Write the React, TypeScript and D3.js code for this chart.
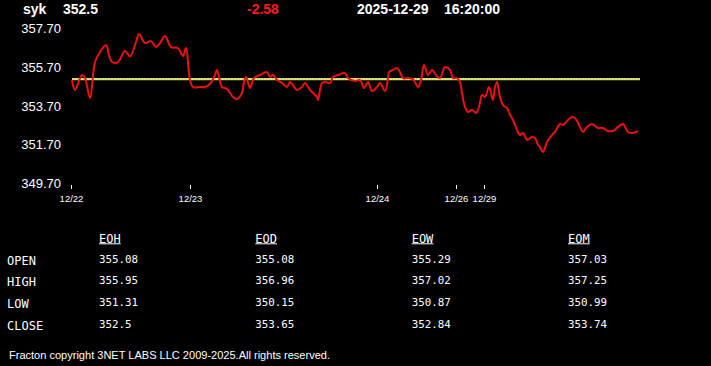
import React, { useEffect, useRef } from 'react';
import * as d3 from 'd3';

// header
const symbol = 'syk';
const lastPrice = '352.5';
const change = '-2.58';
const quoteDate = '2025-12-29';
const quoteTime = '16:20:00';

// price trace: [bar index, price]
const series: [number, number][] = [
  [0, 355.03], [3, 354.52], [10, 355.29], [13, 355.13], [18, 354.1], [23, 355.96],
  [28, 356.48], [34, 356.84], [37, 356.32], [40, 355.96], [46, 355.96], [53, 356.53],
  [58, 356.25], [64, 356.99], [67, 357.41], [73, 356.94], [79, 357.04], [84, 356.73],
  [88, 356.94], [93, 357.3], [99, 356.73], [106, 356.68], [111, 356.27], [114, 356.68],
  [118, 355.03], [121, 354.67], [128, 354.67], [133, 354.67], [138, 354.83], [143, 355.29],
  [145, 355.55], [150, 354.67], [153, 354.62], [156, 354.52], [161, 354.15], [165, 354.05],
  [170, 354.36], [172, 354.93], [174, 355.19], [178, 354.62], [182, 355.13], [188, 355.29],
  [195, 355.44], [198, 355.19], [201, 355.29], [205, 355.03], [210, 354.88], [215, 354.67],
  [218, 354.93], [225, 354.52], [230, 354.67], [233, 354.88], [238, 354.52], [245, 354.15],
  [246, 354.0], [250, 354.88], [253, 354.93], [258, 354.88], [261, 355.19], [266, 355.29],
  [273, 355.39], [276, 355.13], [283, 354.98], [288, 355.03], [292, 354.62], [296, 354.93],
  [300, 354.46], [305, 354.67], [308, 354.88], [313, 354.46], [316, 355.13], [317, 355.44],
  [321, 355.55], [325, 355.65], [328, 355.44], [331, 355.13], [336, 355.13], [341, 355.08],
  [346, 354.67], [349, 355.03], [352, 355.81], [356, 355.29], [360, 355.55], [364, 355.29],
  [368, 355.13], [373, 355.7], [378, 355.55], [381, 355.13], [385, 355.13], [388, 354.93],
  [390, 354.36], [393, 353.64], [396, 353.38], [400, 353.48], [404, 353.33], [407, 353.64],
  [410, 354.26], [413, 354.15], [415, 354.41], [417, 354.67], [420, 354.15], [421, 354.0],
  [423, 354.67], [425, 354.93], [428, 354.15], [431, 353.74], [435, 353.59], [438, 353.23],
  [441, 352.97], [445, 352.45], [448, 352.19], [451, 352.3], [455, 351.94], [460, 352.09],
  [463, 352.04], [466, 351.68], [468, 351.57], [471, 351.32], [475, 351.83], [480, 352.19],
  [483, 352.35], [488, 352.76], [491, 352.71], [496, 352.97], [500, 353.12], [503, 353.07],
  [508, 352.61], [511, 352.35], [515, 352.61], [520, 352.76], [526, 352.55], [531, 352.55],
  [536, 352.4], [541, 352.4], [546, 352.61], [551, 352.76], [556, 352.35], [561, 352.3],
  [566, 352.4],
];
const lastBar = 568;
const openLevel = 355.08;

const yTicks = [349.7, 351.7, 353.7, 355.7, 357.7];
const xTickLabels = ['12/22', '12/23', '12/24', '12/26', '12/29'];
const xTickBars = [-1, 118, 305, 384, 412];

// summary table
const columns = ['EOH', 'EOD', 'EOW', 'EOM'];
const rowLabels = ['OPEN', 'HIGH', 'LOW', 'CLOSE'];
const openRow = ['355.08', '355.08', '355.29', '357.03'];
const highRow = ['355.95', '356.96', '357.02', '357.25'];
const lowRow = ['351.31', '350.15', '350.87', '350.99'];
const closeRow = ['352.5', '353.65', '352.84', '353.74'];
const footer = 'Fracton copyright 3NET LABS LLC 2009-2025.All rights reserved.';

const W = 711;
const H = 366;

const App: React.FC = () => {
  const svgRef = useRef<SVGSVGElement>(null);

  useEffect(() => {
    if (!svgRef.current) return;
    const svg = d3.select(svgRef.current);
    svg.selectAll('*').remove();

    const sans = 'Arial, "Liberation Sans", sans-serif';
    const mono = '"DejaVu Sans Mono", "Liberation Mono", monospace';

    svg.append('rect').attr('width', W).attr('height', H).attr('fill', '#000');

    // header line
    const head = [
      { t: symbol, x: 23, c: '#fff' },
      { t: lastPrice, x: 63, c: '#fff' },
      { t: change, x: 247, c: '#ff1a1a' },
      { t: quoteDate, x: 357, c: '#fff' },
      { t: quoteTime, x: 444, c: '#fff' },
    ];
    svg.selectAll('text.head')
      .data(head)
      .enter()
      .append('text')
      .attr('x', (d) => d.x)
      .attr('y', 14)
      .attr('fill', (d) => d.c)
      .attr('font-family', sans)
      .attr('font-size', '14px')
      .attr('font-weight', 'bold')
      .text((d) => d.t);

    // scales
    const x = d3.scaleLinear().domain([0, lastBar]).range([72, 640]);
    const y = d3.scaleLinear().domain([349.7, 357.7]).range([183.3, 28.3]);

    // y labels
    svg.selectAll('text.ytick')
      .data(yTicks)
      .enter()
      .append('text')
      .attr('x', 61)
      .attr('y', (d) => y(d) + 4.7)
      .attr('text-anchor', 'end')
      .attr('fill', '#fff')
      .attr('font-family', sans)
      .attr('font-size', '13px')
      .text((d) => d.toFixed(2));

    // x ticks
    const xt = svg.selectAll('g.xtick')
      .data(xTickBars)
      .enter()
      .append('g')
      .attr('transform', (d) => `translate(${Math.round(x(d)) + 0.5},0)`);
    xt.append('line')
      .attr('y1', 185)
      .attr('y2', 189)
      .attr('stroke', '#fff')
      .attr('stroke-width', 1);
    xt.append('text')
      .attr('y', 202)
      .attr('text-anchor', 'middle')
      .attr('fill', '#fff')
      .attr('font-family', sans)
      .attr('font-size', '9.5px')
      .text((_, i) => xTickLabels[i]);

    // open reference line
    svg.append('line')
      .attr('x1', x(0))
      .attr('x2', x(lastBar))
      .attr('y1', y(openLevel))
      .attr('y2', y(openLevel))
      .attr('stroke', '#c8d060')
      .attr('stroke-width', 2.2);
    svg.append('line')
      .attr('x1', x(0))
      .attr('x2', x(lastBar))
      .attr('y1', y(openLevel))
      .attr('y2', y(openLevel))
      .attr('stroke', '#f2f0a0')
      .attr('stroke-width', 1)
      .attr('stroke-dasharray', '2,1');

    // price line
    const line = d3.line<[number, number]>()
      .x((d) => x(d[0]))
      .y((d) => y(d[1]))
      .curve(d3.curveCatmullRom.alpha(0.5));
    svg.append('path')
      .attr('d', line(series)!)
      .attr('fill', 'none')
      .attr('stroke', '#ee1010')
      .attr('stroke-width', 2)
      .attr('stroke-linejoin', 'round');

    // table
    const colX = d3.scaleLinear().domain([0, 3]).range([99, 568]);
    const rowY = d3.scaleLinear().domain([0, 3]).range([263, 328.5]);
    const rows = [openRow, highRow, lowRow, closeRow];

    columns.forEach((c, i) => {
      const t = svg.append('text')
        .attr('x', colX(i))
        .attr('y', 242.5)
        .attr('fill', '#fff')
        .attr('font-family', mono)
        .attr('font-size', '12px')
        .text(c);
      const w = (t.node() as SVGTextElement).getComputedTextLength();
      svg.append('line')
        .attr('x1', colX(i))
        .attr('x2', colX(i) + w)
        .attr('y1', 243.8)
        .attr('y2', 243.8)
        .attr('stroke', '#fff')
        .attr('stroke-width', 1);
    });

    rowLabels.forEach((r, j) => {
      svg.append('text')
        .attr('x', 7)
        .attr('y', rowY(j) + 1.5)
        .attr('fill', '#fff')
        .attr('font-family', mono)
        .attr('font-size', '12px')
        .text(r);
      rows[j].forEach((v, i) => {
        svg.append('text')
          .attr('x', colX(i))
          .attr('y', rowY(j) - 0.5)
          .attr('fill', '#fff')
          .attr('font-family', mono)
          .attr('font-size', '10.8px')
          .text(v);
      });
    });

    svg.append('text')
      .attr('x', 9)
      .attr('y', 359)
      .attr('fill', '#fff')
      .attr('font-family', sans)
      .attr('font-size', '11px')
      .attr('textLength', 321)
      .attr('lengthAdjust', 'spacingAndGlyphs')
      .text(footer);
  }, []);

  return (
    <svg
      ref={svgRef}
      width={W}
      height={H}
      style={{ position: 'absolute', left: 0, top: 0, display: 'block' }}
    />
  );
};

export default App;
